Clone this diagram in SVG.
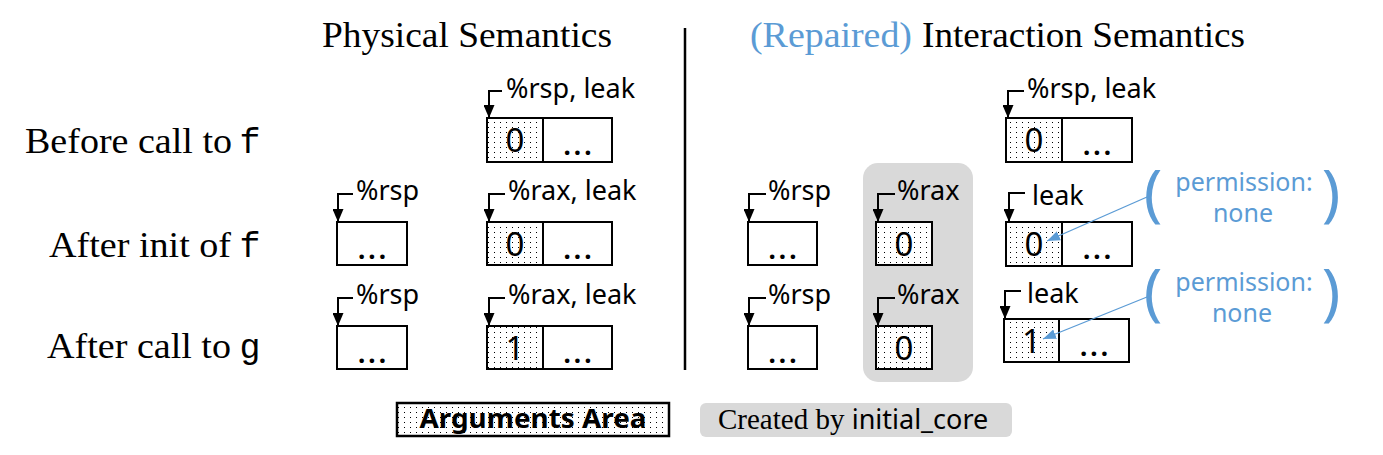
<svg xmlns="http://www.w3.org/2000/svg" width="1383" height="455" viewBox="0 0 1383 455">
<defs>
<pattern id="dots" width="6" height="5" patternUnits="userSpaceOnUse"><rect width="6" height="5" fill="#fff"/><rect x="2" y="2" width="1" height="1" fill="#000"/></pattern>
<marker id="ah" markerUnits="userSpaceOnUse" markerWidth="13" markerHeight="11" refX="13" refY="5.5" orient="auto" viewBox="0 0 13 11"><path d="M0,0 L13,5.5 L0,11 z" fill="#000"/></marker>
<marker id="bh" markerUnits="userSpaceOnUse" markerWidth="13" markerHeight="10" refX="13" refY="5" orient="auto" viewBox="0 0 13 10"><path d="M0,0 L13,5 L0,10 z" fill="#5B9BD5"/></marker>
</defs>
<style>
.box{fill:#fff;stroke:#000;stroke-width:2}
.dot{fill:url(#dots);stroke:#000;stroke-width:2}
.lbl{font-family:"Noto Sans","Open Sans",sans-serif;font-size:27px;fill:#000}
.num{font-family:"Noto Sans","Open Sans",sans-serif;font-size:33px;text-anchor:middle}
.ell{font-family:"Noto Sans",sans-serif;font-size:26px;font-weight:bold;letter-spacing:3px;text-anchor:middle}
.title{font-family:"Liberation Serif",serif;font-size:36px}
.row{font-family:"Liberation Serif",serif;font-size:36px}
.mono{font-family:"Liberation Mono","DejaVu Sans Mono",monospace;font-size:35px;text-anchor:middle}
.blue{fill:#5B9BD5;font-family:"Noto Sans",sans-serif;font-size:25px;text-anchor:middle}
.par{fill:#5B9BD5;font-family:"Noto Sans",sans-serif;font-size:62px;text-anchor:middle}
.ptr{fill:none;stroke:#000;stroke-width:2;marker-end:url(#ah)}
.bptr{fill:none;stroke:#5B9BD5;stroke-width:1.3;marker-end:url(#bh)}
</style>
<rect width="1383" height="455" fill="#fff"/>

<g id="titles">
<text class="title" x="322" y="47" textLength="290" lengthAdjust="spacingAndGlyphs">Physical Semantics</text>
<text class="title" x="750" y="47" fill="#5B9BD5" textLength="162" lengthAdjust="spacingAndGlyphs">(Repaired)</text>
<text class="title" x="922" y="47" textLength="323" lengthAdjust="spacingAndGlyphs">Interaction Semantics</text>
</g>
<line x1="685" y1="28" x2="685" y2="370" stroke="#000" stroke-width="2.5"/>

<g id="row-labels">
<text class="row" x="25" y="153" textLength="207" lengthAdjust="spacingAndGlyphs">Before call to</text>
<text class="mono" x="250" y="153">f</text>
<text class="row" x="49" y="257" textLength="182" lengthAdjust="spacingAndGlyphs">After init of</text>
<text class="mono" x="250" y="257">f</text>
<text class="row" x="47" y="358" textLength="184" lengthAdjust="spacingAndGlyphs">After call to</text>
<text class="mono" x="250" y="358">g</text>
</g>

<g id="core-bg"><rect x="863" y="163" width="110" height="219" rx="15" fill="#d9d9d9"/></g>

<g id="p1-stack">
<rect class="dot" x="487" y="118" width="56" height="44"/><rect class="box" x="543" y="118" width="69" height="44"/>
<text class="num" x="515" y="152">0</text><text class="ell" x="579" y="155">...</text>
<text class="lbl" x="506" y="98">%rsp, leak</text>
</g>
<g id="p2-rsp">
<rect class="box" x="337" y="222" width="70" height="43"/><text class="ell" x="373.5" y="259">...</text>
<text class="lbl" x="356" y="200">%rsp</text>
</g>
<g id="p2-stack">
<rect class="dot" x="487" y="222" width="56" height="43"/><rect class="box" x="543" y="222" width="69" height="43"/>
<text class="num" x="515" y="256">0</text><text class="ell" x="579" y="259">...</text>
<text class="lbl" x="508" y="200">%rax, leak</text>
</g>
<g id="p3-rsp">
<rect class="box" x="337" y="326" width="70" height="43"/><text class="ell" x="373.5" y="363">...</text>
<text class="lbl" x="356" y="304">%rsp</text>
</g>
<g id="p3-stack">
<rect class="dot" x="487" y="326" width="56" height="43"/><rect class="box" x="543" y="326" width="69" height="43"/>
<text class="num" x="515" y="360">1</text><text class="ell" x="579" y="363">...</text>
<text class="lbl" x="508" y="304">%rax, leak</text>
</g>

<g id="i1-stack">
<rect class="dot" x="1006" y="118" width="56" height="44"/><rect class="box" x="1062" y="118" width="70" height="44"/>
<text class="num" x="1034" y="152">0</text><text class="ell" x="1098.5" y="155">...</text>
<text class="lbl" x="1027" y="98">%rsp, leak</text>
</g>
<g id="i2-rsp">
<rect class="box" x="748" y="222" width="69" height="43"/><text class="ell" x="784" y="259">...</text>
<text class="lbl" x="768" y="200">%rsp</text>
</g>
<g id="i2-rax">
<rect class="dot" x="876" y="222" width="56" height="43"/>
<text class="num" x="904" y="256">0</text>
<text class="lbl" x="897" y="200">%rax</text>
</g>
<g id="i2-leak">
<rect class="dot" x="1006" y="222" width="56" height="44"/><rect class="box" x="1062" y="222" width="70" height="44"/>
<text class="num" x="1034" y="256">0</text><text class="ell" x="1098.5" y="259">...</text>
<text class="lbl" x="1032" y="205">leak</text>
</g>
<g id="i2-note">
<text class="par" x="1153" y="214">(</text>
<text class="blue" x="1244" y="191">permission:</text>
<text class="blue" x="1243" y="222">none</text>
<text class="par" x="1331" y="214">)</text>
</g>
<g id="i3-rsp">
<rect class="box" x="748" y="326" width="69" height="43"/><text class="ell" x="784" y="363">...</text>
<text class="lbl" x="768" y="304">%rsp</text>
</g>
<g id="i3-rax">
<rect class="dot" x="876" y="326" width="56" height="43"/>
<text class="num" x="904" y="360">0</text>
<text class="lbl" x="897" y="304">%rax</text>
</g>
<g id="i3-leak">
<rect class="dot" x="1004" y="319" width="55" height="43"/><rect class="box" x="1059" y="319" width="70" height="43"/>
<text class="num" x="1031.5" y="353">1</text><text class="ell" x="1095.5" y="356">...</text>
<text class="lbl" x="1027" y="303">leak</text>
</g>
<g id="i3-note">
<text class="par" x="1153" y="313">(</text>
<text class="blue" x="1244" y="291">permission:</text>
<text class="blue" x="1242" y="322">none</text>
<text class="par" x="1331" y="313">)</text>
</g>

<g id="connectors">
<path class="ptr" d="M502,91 H489 V118"/>
<path class="ptr" d="M353,194 H338 V222"/>
<path class="ptr" d="M505,194 H489 V222"/>
<path class="ptr" d="M353,298 H338 V326"/>
<path class="ptr" d="M505,298 H489 V326"/>
<path class="ptr" d="M1024,91 H1008 V118"/>
<path class="ptr" d="M766,194 H749 V222"/>
<path class="ptr" d="M895,194 H878 V222"/>
<path class="ptr" d="M1025,193 H1009 V222"/>
<path class="ptr" d="M766,298 H749 V326"/>
<path class="ptr" d="M895,298 H878 V326"/>
<path class="ptr" d="M1021,291 H1005 V319"/>
<path class="bptr" d="M1147,197 L1047,241"/>
<path class="bptr" d="M1147,297 L1043,339"/>
</g>

<g id="legend-args">
<rect x="397" y="403" width="272" height="33" fill="url(#dots)" stroke="#000" stroke-width="2.5"/>
<text x="533" y="428" font-family="Noto Sans, sans-serif" font-size="27" font-weight="bold" text-anchor="middle" textLength="227" lengthAdjust="spacingAndGlyphs">Arguments Area</text>
</g>
<g id="legend-core">
<rect x="700" y="403" width="312" height="34" rx="6" fill="#d9d9d9"/>
<text x="718" y="429" font-family="Liberation Serif, serif" font-size="29">Created by <tspan font-family="Noto Sans, sans-serif" font-size="27">initial_core</tspan></text>
</g>
</svg>
